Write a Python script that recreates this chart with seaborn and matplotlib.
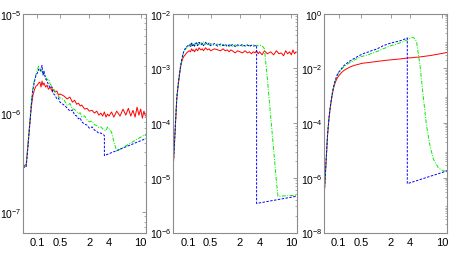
import numpy as np
import matplotlib
matplotlib.use("Agg")
import matplotlib.pyplot as plt
from matplotlib.ticker import LogLocator, NullLocator, FixedLocator, FixedFormatter, NullFormatter
import seaborn as sns

# ---------------- data ----------------
T = [0.03, 0.04, 0.045, 0.05, 0.055, 0.06, 0.065, 0.07, 0.08, 0.09,
     0.10, 0.11, 0.12, 0.13, 0.14, 0.15, 0.16, 0.18, 0.20, 0.22,
     0.25, 0.28, 0.30, 0.35, 0.40, 0.45, 0.50, 0.6, 0.7, 0.8,
     0.9, 1.0, 1.1, 1.2, 1.3, 1.4, 1.6, 1.8, 2.0, 2.2,
     2.4, 2.6, 2.8, 3.0, 3.2, 3.4, 3.6, 3.8, 4.0, 4.3,
     4.6, 5.0, 5.5, 6.0, 6.5, 7.0, 7.5, 8.0, 8.5, 9.0,
     9.5, 10, 10.5, 11, 11.5]

# panel 1
red1 = [2.83e-7, 3.03e-7, 4.30e-7, 6.09e-7, 8.24e-7, 1.09e-6, 1.31e-6, 1.51e-6, 1.73e-6, 1.86e-6,
        1.90e-6, 2.00e-6, 2.04e-6, 1.82e-6, 2.09e-6, 1.90e-6, 2.00e-6, 1.82e-6, 1.90e-6, 1.73e-6,
        1.82e-6, 1.66e-6, 1.73e-6, 1.62e-6, 1.66e-6, 1.51e-6, 1.55e-6, 1.48e-6, 1.38e-6, 1.44e-6,
        1.28e-6, 1.34e-6, 1.22e-6, 1.25e-6, 1.17e-6, 1.20e-6, 1.09e-6, 1.11e-6, 1.04e-6, 1.06e-6,
        9.93e-7, 1.04e-6, 9.48e-7, 9.93e-7, 9.27e-7, 1.02e-6, 9.05e-7, 9.70e-7, 9.27e-7, 1.02e-6,
        9.05e-7, 1.04e-6, 9.27e-7, 1.09e-6, 9.48e-7, 1.11e-6, 9.27e-7, 1.06e-6, 9.05e-7, 1.14e-6,
        9.48e-7, 1.09e-6, 8.84e-7, 1.04e-6, 9.27e-7]
green1_x = T[:52] + [11.7]
green1 = [2.83e-7, 2.90e-7, 4.45e-7, 6.30e-7, 8.70e-7, 1.20e-6, 1.52e-6, 1.82e-6, 2.18e-6, 2.45e-6,
          2.70e-6, 2.95e-6, 2.85e-6, 2.60e-6, 2.70e-6, 2.45e-6, 2.55e-6, 2.30e-6, 2.15e-6, 2.20e-6,
          1.95e-6, 1.86e-6, 1.78e-6, 1.66e-6, 1.55e-6, 1.46e-6, 1.42e-6, 1.36e-6, 1.19e-6, 1.24e-6,
          1.10e-6, 1.08e-6, 1.03e-6, 9.80e-7, 1.00e-6, 9.10e-7, 9.30e-7, 8.50e-7, 8.10e-7, 8.30e-7,
          7.60e-7, 7.40e-7, 7.10e-7, 7.20e-7, 6.90e-7, 6.70e-7, 6.60e-7, 7.20e-7, 6.90e-7, 6.40e-7,
          5.10e-7, 4.10e-7, 6.10e-7]
blue1_x = T[:46] + [3.4, 11.7]
blue1 = [2.83e-7, 2.83e-7, 4.15e-7, 5.95e-7, 8.24e-7, 1.14e-6, 1.44e-6, 1.73e-6, 2.09e-6, 2.40e-6,
         2.51e-6, 2.75e-6, 2.63e-6, 2.75e-6, 3.00e-6, 2.40e-6, 2.63e-6, 2.20e-6, 2.10e-6, 1.92e-6,
         1.79e-6, 1.83e-6, 1.58e-6, 1.51e-6, 1.38e-6, 1.41e-6, 1.28e-6, 1.20e-6, 1.12e-6, 1.04e-6,
         1.07e-6, 9.50e-7, 9.30e-7, 8.70e-7, 8.90e-7, 8.10e-7, 7.70e-7, 7.50e-7, 7.00e-7, 7.20e-7,
         6.70e-7, 6.50e-7, 6.20e-7, 6.25e-7, 6.10e-7, 5.90e-7, 3.70e-7, 5.50e-7]

# panel 2
red2 = [1.65e-5, 2.75e-4, 4.98e-4, 7.60e-4, 1.07e-3, 1.32e-3, 1.49e-3, 1.63e-3, 1.77e-3, 1.92e-3,
        2.01e-3, 2.10e-3, 2.01e-3, 2.28e-3, 2.10e-3, 2.18e-3, 2.01e-3, 2.28e-3, 2.10e-3, 2.38e-3,
        2.18e-3, 2.28e-3, 2.10e-3, 2.38e-3, 2.18e-3, 2.28e-3, 2.10e-3, 2.28e-3, 2.18e-3, 2.10e-3,
        2.28e-3, 2.10e-3, 2.18e-3, 2.01e-3, 2.18e-3, 2.10e-3, 1.92e-3, 2.10e-3, 2.01e-3, 1.92e-3,
        2.10e-3, 1.92e-3, 2.01e-3, 1.85e-3, 2.01e-3, 1.92e-3, 2.10e-3, 1.85e-3, 2.01e-3, 1.77e-3,
        2.10e-3, 1.85e-3, 2.01e-3, 1.77e-3, 2.10e-3, 1.85e-3, 1.92e-3, 1.70e-3, 2.10e-3, 1.85e-3,
        2.01e-3, 1.77e-3, 2.18e-3, 1.85e-3, 2.01e-3]
green2_x = T[:51] + [5.0, 5.5, 6.0, 6.5, 6.8, 11.7]
green2 = [1.65e-5, 3.00e-4, 5.00e-4, 7.80e-4, 1.10e-3, 1.40e-3, 1.70e-3, 1.95e-3, 2.20e-3, 2.40e-3,
          2.50e-3, 2.60e-3, 2.80e-3, 2.55e-3, 2.90e-3, 2.60e-3, 2.85e-3, 2.60e-3, 2.90e-3, 2.65e-3,
          3.00e-3, 2.70e-3, 3.05e-3, 2.75e-3, 2.95e-3, 2.60e-3, 2.85e-3, 2.60e-3, 2.80e-3, 2.55e-3,
          2.75e-3, 2.60e-3, 2.70e-3, 2.50e-3, 2.70e-3, 2.55e-3, 2.70e-3, 2.50e-3, 2.65e-3, 2.55e-3,
          2.70e-3, 2.55e-3, 2.65e-3, 2.60e-3, 2.70e-3, 2.60e-3, 2.65e-3, 2.60e-3, 2.65e-3, 2.60e-3,
          2.28e-3, 6.60e-4, 1.37e-4, 3.30e-5, 8.60e-6, 4.60e-6, 4.80e-6]
blue2_x = T[:47] + [3.6, 11.7]
blue2 = [1.65e-5, 2.90e-4, 5.20e-4, 8.00e-4, 1.13e-3, 1.45e-3, 1.75e-3, 2.00e-3, 2.30e-3, 2.50e-3,
         2.60e-3, 2.75e-3, 2.50e-3, 2.90e-3, 2.60e-3, 2.80e-3, 2.55e-3, 2.95e-3, 2.60e-3, 3.00e-3,
         2.70e-3, 2.85e-3, 2.60e-3, 3.00e-3, 2.70e-3, 2.90e-3, 2.60e-3, 2.85e-3, 2.55e-3, 2.80e-3,
         2.60e-3, 2.75e-3, 2.50e-3, 2.70e-3, 2.55e-3, 2.75e-3, 2.50e-3, 2.70e-3, 2.60e-3, 2.75e-3,
         2.55e-3, 2.70e-3, 2.50e-3, 2.65e-3, 2.55e-3, 2.60e-3, 2.60e-3, 3.40e-6, 4.60e-6]

# panel 3
red3 = [1.63e-7, 3.33e-5, 1.40e-4, 3.55e-4, 6.98e-4, 1.16e-3, 1.77e-3, 2.38e-3, 3.48e-3, 4.48e-3,
        5.30e-3, 6.02e-3, 6.84e-3, 7.44e-3, 8.10e-3, 8.59e-3, 9.03e-3, 9.75e-3, 1.04e-2, 1.11e-2,
        1.18e-2, 1.24e-2, 1.29e-2, 1.34e-2, 1.40e-2, 1.46e-2, 1.52e-2, 1.59e-2, 1.63e-2, 1.69e-2,
        1.73e-2, 1.78e-2, 1.82e-2, 1.85e-2, 1.88e-2, 1.92e-2, 1.97e-2, 2.02e-2, 2.05e-2, 2.10e-2,
        2.14e-2, 2.18e-2, 2.21e-2, 2.27e-2, 2.31e-2, 2.35e-2, 2.39e-2, 2.43e-2, 2.43e-2, 2.47e-2,
        2.54e-2, 2.58e-2, 2.67e-2, 2.76e-2, 2.85e-2, 2.92e-2, 3.03e-2, 3.13e-2, 3.24e-2, 3.32e-2,
        3.44e-2, 3.52e-2, 3.61e-2, 3.71e-2, 3.86e-2]
green3_x = T[:51] + [4.8, 5.3, 5.8, 6.4, 7.07, 7.8, 9.0, 10.4, 11.7]
green3 = [1.63e-7, 3.40e-5, 1.45e-4, 3.70e-4, 7.30e-4, 1.25e-3, 1.90e-3, 2.70e-3, 4.10e-3, 5.60e-3,
          6.80e-3, 7.80e-3, 8.80e-3, 9.80e-3, 1.08e-2, 1.17e-2, 1.25e-2, 1.38e-2, 1.50e-2, 1.62e-2,
          1.75e-2, 1.90e-2, 2.00e-2, 2.20e-2, 2.40e-2, 2.55e-2, 2.70e-2, 2.95e-2, 3.20e-2, 3.50e-2,
          3.75e-2, 4.00e-2, 4.30e-2, 4.60e-2, 4.90e-2, 5.20e-2, 5.70e-2, 6.20e-2, 6.70e-2, 7.20e-2,
          7.60e-2, 8.10e-2, 8.60e-2, 9.20e-2, 9.80e-2, 1.04e-1, 1.10e-1, 1.18e-1, 1.28e-1, 1.38e-1,
          1.20e-1, 9.10e-2, 1.26e-2, 1.00e-3, 7.90e-5, 1.48e-5, 4.80e-6, 2.30e-6, 1.80e-6, 1.75e-6]
blue3_x = T[:47] + [3.6, 11.7]
blue3 = [1.63e-7, 3.50e-5, 1.50e-4, 3.80e-4, 7.50e-4, 1.30e-3, 2.00e-3, 2.80e-3, 4.30e-3, 6.00e-3,
         7.20e-3, 8.30e-3, 9.50e-3, 1.08e-2, 1.20e-2, 1.30e-2, 1.40e-2, 1.55e-2, 1.70e-2, 1.85e-2,
         2.00e-2, 2.20e-2, 2.30e-2, 2.55e-2, 2.80e-2, 3.00e-2, 3.20e-2, 3.70e-2, 4.00e-2, 4.40e-2,
         4.70e-2, 5.00e-2, 5.40e-2, 5.80e-2, 6.20e-2, 6.80e-2, 7.30e-2, 7.90e-2, 8.40e-2, 8.90e-2,
         9.30e-2, 9.80e-2, 1.03e-1, 1.08e-1, 1.15e-1, 1.22e-1, 1.30e-1, 6.10e-7, 1.80e-6]

XTICKS = [0.1, 0.5, 2, 4, 10]
XTICKLABELS = ["0.1", "0.5", "2", "4", "10"]

# ---------------- axis mapping (tick placement of the reference) ----------------
_LOGX = [np.log10(0.03), -1.0, np.log10(0.5), np.log10(2), np.log10(4), 1.0, np.log10(11.7)]
_POS = [0.0, 14.6, 37.3, 66.6, 86.3, 118.0, 123.3]


def _fwd(x):
    x = np.clip(np.asarray(x, dtype=float), 1e-6, None)
    return np.interp(np.log10(x), _LOGX, _POS)


def _inv(p):
    return 10 ** np.interp(np.asarray(p, dtype=float), _POS, _LOGX)


sns.set_theme(style="white")
plt.rcParams["font.family"] = ["Liberation Sans", "DejaVu Sans"]
plt.rcParams["mathtext.default"] = "regular"

W, H = 457, 255
fig = plt.figure(figsize=(W / 100, H / 100), dpi=100)

panels = [
    dict(left=22.7, red=red1, green=(green1_x, green1), blue=(blue1_x, blue1),
         ylim=(6.2e-8, 1e-5), yticks=[1e-7, 1e-6, 1e-5]),
    dict(left=173.3, red=red2, green=(green2_x, green2), blue=(blue2_x, blue2),
         ylim=(1e-6, 1e-2), yticks=[1e-6, 1e-5, 1e-4, 1e-3, 1e-2]),
    dict(left=324.0, red=red3, green=(green3_x, green3), blue=(blue3_x, blue3),
         ylim=(1e-8, 1.0), yticks=[1e-8, 1e-6, 1e-4, 1e-2, 1.0]),
]

top_px, bot_px, width_px = 14.7, 233.5, 123.3
frame_col = "#8c8c8c"

for pdef in panels:
    ax = fig.add_axes([pdef["left"] / W, (H - bot_px) / H, width_px / W, (bot_px - top_px) / H])
    ax.set_yscale("log")
    ax.set_xscale("function", functions=(_fwd, _inv))

    sns.lineplot(x=T, y=pdef["red"], ax=ax, color="#ff0000", linewidth=0.7,
                 estimator=None, sort=False)
    gx, gy = pdef["green"]
    sns.lineplot(x=gx, y=gy, ax=ax, color="#00ee00", linewidth=0.7,
                 estimator=None, sort=False, dashes=False)
    bx, by = pdef["blue"]
    sns.lineplot(x=bx, y=by, ax=ax, color="#0000ff", linewidth=0.7,
                 estimator=None, sort=False, dashes=False)
    lines = ax.get_lines()
    lines[1].set_dashes([4, 1.5, 1, 1.5])
    lines[2].set_dashes([2.5, 1.5])

    ax.set_xlim(0.03, 11.7)
    ax.set_ylim(*pdef["ylim"])
    ax.xaxis.set_major_locator(FixedLocator(XTICKS))
    ax.xaxis.set_major_formatter(FixedFormatter(XTICKLABELS))
    ax.xaxis.set_minor_locator(NullLocator())
    ax.set_yticks(pdef["yticks"])
    ax.yaxis.set_minor_locator(LogLocator(base=10, subs=np.arange(2, 10), numticks=50))
    ax.yaxis.set_minor_formatter(NullFormatter())

    ax.tick_params(which="both", direction="in", top=True, right=True,
                   colors=frame_col, labelcolor="black")
    ax.tick_params(axis="x", labelsize=8, pad=3)
    ax.tick_params(axis="y", labelsize=7.5, pad=1)
    ax.tick_params(which="major", length=3, width=0.6)
    ax.tick_params(which="minor", length=1.5, width=0.5)
    for s in ax.spines.values():
        s.set_color(frame_col)
        s.set_linewidth(0.8)
    ax.set_xlabel("")
    ax.set_ylabel("")
    ax.set_facecolor("white")

fig.savefig("out.png", dpi=100, facecolor="white")
